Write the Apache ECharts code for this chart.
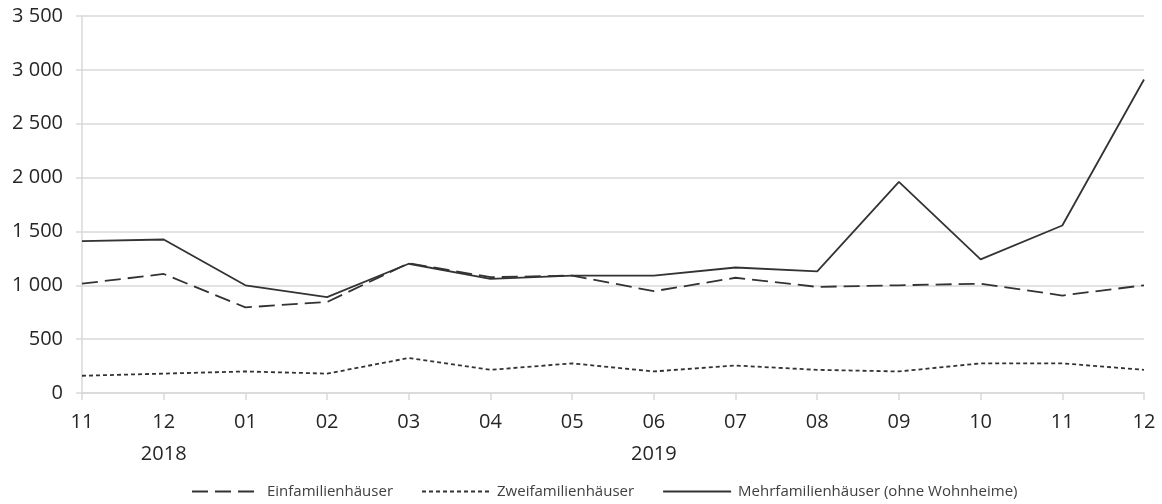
<!DOCTYPE html>
<html>
<head>
<meta charset="utf-8">
<script src="https://cdn.jsdelivr.net/npm/echarts@6/dist/echarts.min.js"></script>
<style>
  html, body { margin: 0; padding: 0; background: #fff; }
  #main { width: 1162px; height: 504px; }
</style>
</head>
<body>
<div id="main"></div>
<script>
/* Monate Nov 2018 - Dez 2019 */
var months = ['11', '12', '01', '02', '03', '04', '05', '06', '07', '08', '09', '10', '11', '12'];
var years = ['', '2018', '', '', '', '', '', '2019', '', '', '', '', '', ''];

var einfamilien = [1015, 1105, 795, 845, 1205, 1075, 1090, 945, 1070, 985, 1000, 1015, 905, 1000];
var zweifamilien = [160, 180, 200, 180, 325, 215, 275, 200, 255, 215, 200, 275, 275, 215];
var mehrfamilien = [1410, 1425, 1000, 890, 1200, 1060, 1090, 1090, 1165, 1130, 1960, 1240, 1555, 2910];

var seriesNames = ['Einfamilienhäuser', 'Zweifamilienhäuser', 'Mehrfamilienhäuser (ohne Wohnheime)'];

var lineColor = '#333333';
var gridColor = '#d9d9d9';
var fontFamily = '"Open Sans", "Noto Sans", sans-serif';

function fmt(v) {
    return String(v).replace(/\B(?=(\d{3})+(?!\d))/g, ' ');
}

var myChart = echarts.init(document.getElementById('main'));

var option = {
    animation: false,
    grid: {
        left: 82,
        right: 18,
        top: 16,
        bottom: 111
    },
    legend: {
        top: 479,
        left: 186,
        itemWidth: 68,
        itemHeight: 14,
        itemGap: 28,
        itemStyle: { opacity: 0 },
        textStyle: {
            fontFamily: fontFamily,
            fontSize: 15,
            color: '#404040',
            padding: [0, 0, 0, 2]
        },
        data: seriesNames
    },
    xAxis: [
        {
            type: 'category',
            boundaryGap: false,
            data: months,
            axisLine: { lineStyle: { color: gridColor, width: 1.5 } },
            axisTick: { show: true, length: 7, lineStyle: { color: gridColor, width: 1.5 } },
            axisLabel: {
                margin: 19,
                fontFamily: fontFamily,
                fontSize: 20,
                color: '#262626',
                interval: 0
            }
        },
        {
            type: 'category',
            position: 'bottom',
            boundaryGap: false,
            data: years,
            axisLine: { show: false },
            axisTick: { show: false },
            axisLabel: {
                margin: 51,
                fontFamily: fontFamily,
                fontSize: 20,
                color: '#262626',
                interval: 0
            }
        }
    ],
    yAxis: {
        type: 'value',
        min: 0,
        max: 3500,
        interval: 500,
        axisLine: { show: true, lineStyle: { color: gridColor, width: 1.5 } },
        axisTick: { show: true, length: 6, lineStyle: { color: gridColor, width: 1.5 } },
        splitLine: { lineStyle: { color: gridColor, width: 1.5 } },
        axisLabel: {
            margin: 19,
            fontFamily: fontFamily,
            fontSize: 20,
            color: '#262626',
            formatter: fmt
        }
    },
    series: [
        {
            name: seriesNames[0],
            type: 'line',
            symbol: 'none',
            data: einfamilien,
            lineStyle: { color: lineColor, width: 1.8, type: [16, 7] },
            itemStyle: { color: lineColor }
        },
        {
            name: seriesNames[1],
            type: 'line',
            symbol: 'none',
            data: zweifamilien,
            lineStyle: { color: lineColor, width: 1.8, type: [4, 3] },
            itemStyle: { color: lineColor }
        },
        {
            name: seriesNames[2],
            type: 'line',
            symbol: 'none',
            data: mehrfamilien,
            lineStyle: { color: lineColor, width: 1.8 },
            itemStyle: { color: lineColor }
        }
    ]
};

myChart.setOption(option);
</script>
</body>
</html>
